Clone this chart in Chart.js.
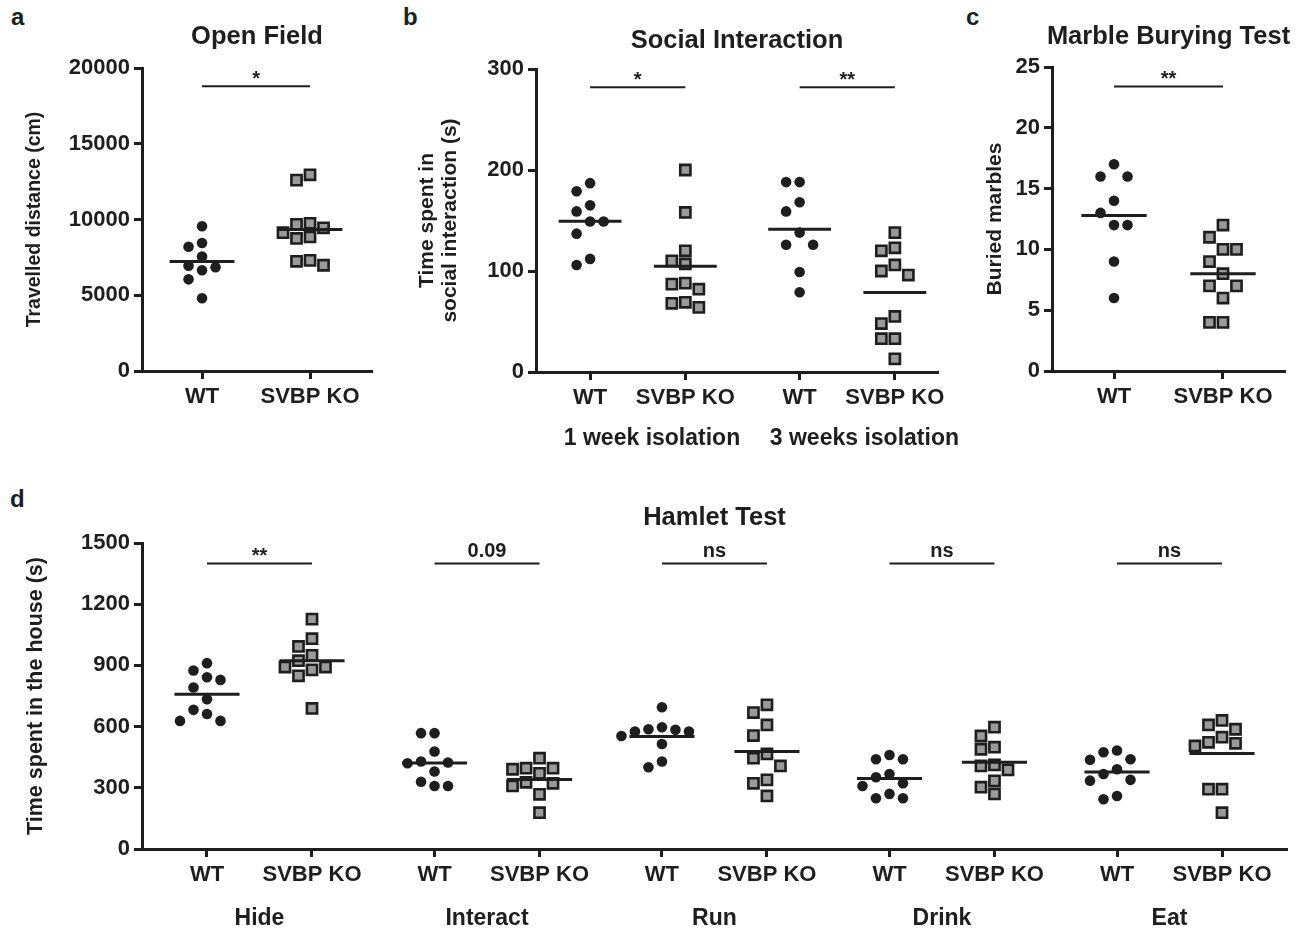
<!DOCTYPE html>
<html>
<head>
<meta charset="utf-8">
<script src="https://cdn.jsdelivr.net/npm/chart.js@4.4.1/dist/chart.umd.min.js"></script>
<style>
  html, body { margin: 0; padding: 0; background: #fff; }
  body { width: 1303px; height: 930px; position: relative; overflow: hidden;
         font-family: "Liberation Sans", Arial, Helvetica, sans-serif; }
  .panel { position: absolute; }
  .tag { position: absolute; font-weight: bold; font-size: 24px; line-height: 24px; color: #1e1e1e; }
</style>
</head>
<body>
<div class="tag" style="left:11px;top:5px">a</div>
<div class="tag" style="left:403px;top:5px">b</div>
<div class="tag" style="left:966px;top:5px">c</div>
<div class="tag" style="left:10px;top:487px">d</div>

<div class="panel" style="left:0;top:0;width:395px;height:420px"><canvas id="chartA"></canvas></div>
<div class="panel" style="left:395px;top:0;width:570px;height:460px"><canvas id="chartB"></canvas></div>
<div class="panel" style="left:965px;top:0;width:338px;height:420px"><canvas id="chartC"></canvas></div>
<div class="panel" style="left:0;top:480px;width:1303px;height:450px"><canvas id="chartD"></canvas></div>

<script>
// ---- data ----
const groupNames = ["WT", "SVBP KO"];

// a: open field, travelled distance (cm)
const openWT = [9550, 8450, 8200, 7550, 6950, 6850, 6650, 6050, 4800];
const openKO = [12950, 12600, 9750, 9680, 9450, 9130, 8850, 8750, 7300, 7240, 6980];
const openSig = ["*"];
const openSigLevel = [18800];

// b: social interaction (s)
const isolation = ["1 week isolation", "3 weeks isolation"];
const social1WT = [187, 179, 165, 159, 149, 149, 137, 112, 106];
const social1KO = [200, 158, 120, 110, 107, 88, 87, 82, 69, 68, 64];
const social3WT = [188, 188, 168, 159, 138, 126, 126, 99, 79];
const social3KO = [138, 123, 120, 106, 100, 96, 55, 48, 33, 33, 13];
const socialSig = ["*", "**"];
const socialSigLevel = [282, 282];

// c: marble burying
const marbleWT = [17, 16, 16, 14, 13, 12, 12, 9, 6];
const marbleKO = [12, 11, 10, 10, 9, 8, 7, 7, 6, 4, 4];
const marbleSig = ["**"];
const marbleSigLevel = [23.4];

// d: hamlet test, time spent in the house (s)
const hamletTasks = ["Hide", "Interact", "Run", "Drink", "Eat"];
const hamletWT = [
  [911, 875, 842, 829, 792, 734, 682, 662, 628, 628],
  [568, 568, 478, 429, 424, 420, 380, 330, 309, 309],
  [695, 597, 587, 584, 576, 576, 554, 515, 429, 401],
  [461, 440, 440, 368, 352, 322, 309, 270, 249, 249],
  [483, 474, 440, 437, 391, 368, 339, 335, 260, 244]
];
const hamletKO = [
  [1127, 1031, 993, 949, 923, 892, 892, 878, 849, 689],
  [445, 396, 396, 391, 371, 327, 322, 309, 268, 178],
  [707, 669, 608, 556, 466, 445, 407, 339, 322, 260],
  [597, 554, 499, 489, 412, 407, 388, 334, 303, 270],
  [630, 608, 587, 548, 523, 518, 505, 293, 293, 178]
];
const hamletSig = ["**", "0.09", "ns", "ns", "ns"];
const hamletSigLevel = [1400, 1400, 1400, 1400, 1400];

// ---- styling ----
const ink = "#1e1e1e";
const family = '"Liberation Sans", Arial, Helvetica, sans-serif';
Chart.defaults.font.family = family;
Chart.defaults.font.weight = "bold";
Chart.defaults.color = ink;
Chart.defaults.animation = false;
Chart.defaults.plugins.legend.display = false;
Chart.defaults.plugins.tooltip.enabled = false;

function mean(a) { return a.reduce((s, v) => s + v, 0) / a.length; }

function pointSet(values, x, ko) {
  return {
    type: "scatter",
    data: values.map(v => ({x: x, y: v})),
    values: values,
    center: x,
    pointStyle: ko ? "rect" : "circle",
    pointRadius: ko ? 7.2 : 5.3,
    backgroundColor: ko ? "#9a9a9a" : ink,
    borderColor: ink,
    borderWidth: ko ? 2.6 : 0,
    order: 2
  };
}

function segment(x1, x2, y, w) {
  return {
    type: "line", showLine: true,
    data: [{x: x1, y: y}, {x: x2, y: y}],
    borderColor: ink, borderWidth: w,
    pointRadius: 0, order: 1
  };
}

// beeswarm-ish layout: push crowded points into side columns
function spreadPoints(chart, stepPx, gapPx) {
  const xs = chart.scales.x, ys = chart.scales.y;
  const unit = xs.getPixelForValue(1) - xs.getPixelForValue(0);
  chart.data.datasets.forEach(ds => {
    if (!ds.values) return;
    const placed = [];
    const idx = ds.values.map((v, i) => i).sort((a, b) => ds.values[b] - ds.values[a]);
    idx.forEach(i => {
      const py = ys.getPixelForValue(ds.values[i]);
      let k = 0;
      for (let n = 0; n < 20; n++) {
        k = n === 0 ? 0 : (n % 2 ? -(n + 1) / 2 : n / 2);
        if (!placed.some(p => p.k === k && Math.abs(p.py - py) < gapPx)) break;
      }
      placed.push({k: k, py: py});
      ds.data[i] = {x: ds.center + k * stepPx / unit, y: ds.values[i]};
    });
  });
  chart.update("none");
}

function annotator(p) {
  return {
    id: "annotate",
    afterDraw(chart) {
      const {ctx, chartArea, scales: {x, y}} = chart;
      ctx.save();
      ctx.fillStyle = ink;
      ctx.textAlign = "center";
      ctx.font = "bold 25.5px " + family;
      ctx.textBaseline = "middle";
      ctx.fillText(p.title, (chartArea.left + chartArea.right) / 2, p.titleY);
      ctx.font = "bold 20px " + family;
      p.sig.forEach(s => {
        const px = x.getPixelForValue((s.x1 + s.x2) / 2);
        const py = y.getPixelForValue(s.y);
        if (/^\*+$/.test(s.text)) {
          ctx.textBaseline = "middle";
          ctx.fillText(s.text, px, py - 7);
        } else {
          ctx.textBaseline = "alphabetic";
          ctx.fillText(s.text, px, py - 6);
        }
      });
      if (p.groupLabels) {
        ctx.font = "bold 23px " + family;
        ctx.textBaseline = "middle";
        p.groupLabels.forEach(g => ctx.fillText(g.text, x.getPixelForValue(g.x), p.groupY));
      }
      ctx.restore();
    }
  };
}

function buildPanel(id, p) {
  const datasets = [];
  p.groups.forEach(g => {
    datasets.push(segment(g.x - p.meanHalf, g.x + p.meanHalf, mean(g.values), 3));
    datasets.push(pointSet(g.values, g.x, g.ko));
  });
  p.sig.forEach(s => datasets.push(segment(s.x1, s.x2, s.y, 2)));
  const axisGrid = {display: true, drawOnChartArea: false, drawTicks: true,
                    tickLength: 8, tickWidth: 3, tickColor: ink};
  const axisBorder = {display: true, width: 3, color: ink};
  const chart = new Chart(document.getElementById(id), {
    type: "scatter",
    data: {datasets: datasets},
    plugins: [annotator(p)],
    options: {
      responsive: true,
      maintainAspectRatio: false,
      layout: {padding: p.pad},
      scales: {
        x: {
          type: "linear", min: p.xMin, max: p.xMax,
          afterBuildTicks: s => { s.ticks = p.tickPos.map(v => ({value: v})); },
          afterFit: s => { s.height = p.xHeight; },
          ticks: {callback: (v, i) => p.tickLabels[i], font: {size: 22}, padding: 5,
                  autoSkip: false, maxRotation: 0, color: ink},
          grid: axisGrid, border: axisBorder
        },
        y: {
          type: "linear", min: p.yMin, max: p.yMax,
          afterFit: s => { s.width = p.yWidth; },
          ticks: {stepSize: p.yStep, font: {size: 22}, padding: 4, color: ink,
                  callback: v => String(v)},
          title: {display: true, text: p.yTitle, color: ink,
                  font: {size: p.yTitleSize, weight: "bold", lineHeight: 1.1},
                  padding: {top: p.yTitlePad, bottom: 0}},
          grid: axisGrid, border: axisBorder
        }
      }
    }
  });
  spreadPoints(chart, 13.5, 13);
  return chart;
}

// a
buildPanel("chartA", {
  title: "Open Field", titleY: 37,
  pad: {left: 0, top: 68, right: 23, bottom: 0}, yWidth: 142, xHeight: 49,
  xMin: 0.444, xMax: 2.574, tickPos: [1, 2], tickLabels: groupNames,
  yMin: 0, yMax: 20000, yStep: 5000,
  yTitle: "Travelled distance (cm)", yTitleSize: 19.5, yTitlePad: 24,
  meanHalf: 0.3,
  groups: [{x: 1, values: openWT, ko: false}, {x: 2, values: openKO, ko: true}],
  sig: [{x1: 1, x2: 2, y: openSigLevel[0], text: openSig[0]}]
});

// b
buildPanel("chartB", {
  title: "Social Interaction", titleY: 41,
  pad: {left: 0, top: 69, right: 27, bottom: 0}, yWidth: 141, xHeight: 88,
  xMin: 0.432, xMax: 4.653, tickPos: [1, 2, 3.2, 4.2],
  tickLabels: groupNames.concat(groupNames),
  yMin: 0, yMax: 300, yStep: 100,
  yTitle: ["Time spent in", "social interaction (s)"], yTitleSize: 21, yTitlePad: 21,
  meanHalf: 0.33,
  groups: [{x: 1, values: social1WT, ko: false}, {x: 2, values: social1KO, ko: true},
           {x: 3.2, values: social3WT, ko: false}, {x: 4.2, values: social3KO, ko: true}],
  sig: [{x1: 1, x2: 2, y: socialSigLevel[0], text: socialSig[0]},
        {x1: 3.2, x2: 4.2, y: socialSigLevel[1], text: socialSig[1]}],
  groupLabels: [{x: 1.65, text: isolation[0]}, {x: 3.88, text: isolation[1]}], groupY: 439
});

// c
buildPanel("chartC", {
  title: "Marble Burying Test", titleY: 37,
  pad: {left: 0, top: 67, right: 18, bottom: 0}, yWidth: 87, xHeight: 49,
  xMin: 0.431, xMax: 2.569, tickPos: [1, 2], tickLabels: groupNames,
  yMin: 0, yMax: 25, yStep: 5,
  yTitle: "Buried marbles", yTitleSize: 21, yTitlePad: 19,
  meanHalf: 0.3,
  groups: [{x: 1, values: marbleWT, ko: false}, {x: 2, values: marbleKO, ko: true}],
  sig: [{x1: 1, x2: 2, y: marbleSigLevel[0], text: marbleSig[0]}]
});

// d
const taskStart = [1, 3.167, 5.333, 7.5, 9.667];
buildPanel("chartD", {
  title: "Hamlet Test", titleY: 38,
  pad: {left: 0, top: 63, right: 16, bottom: 0}, yWidth: 142, xHeight: 81,
  xMin: 0.381, xMax: 11.286,
  tickPos: taskStart.flatMap(s => [s, s + 1]),
  tickLabels: taskStart.flatMap(() => groupNames),
  yMin: 0, yMax: 1500, yStep: 300,
  yTitle: "Time spent in the house (s)", yTitleSize: 21.5, yTitlePad: 24,
  meanHalf: 0.31,
  groups: taskStart.flatMap((s, i) => [{x: s, values: hamletWT[i], ko: false},
                                       {x: s + 1, values: hamletKO[i], ko: true}]),
  sig: taskStart.map((s, i) => ({x1: s, x2: s + 1, y: hamletSigLevel[i], text: hamletSig[i]})),
  groupLabels: taskStart.map((s, i) => ({x: s + 0.5, text: hamletTasks[i]})), groupY: 439
});
</script>
</body>
</html>
